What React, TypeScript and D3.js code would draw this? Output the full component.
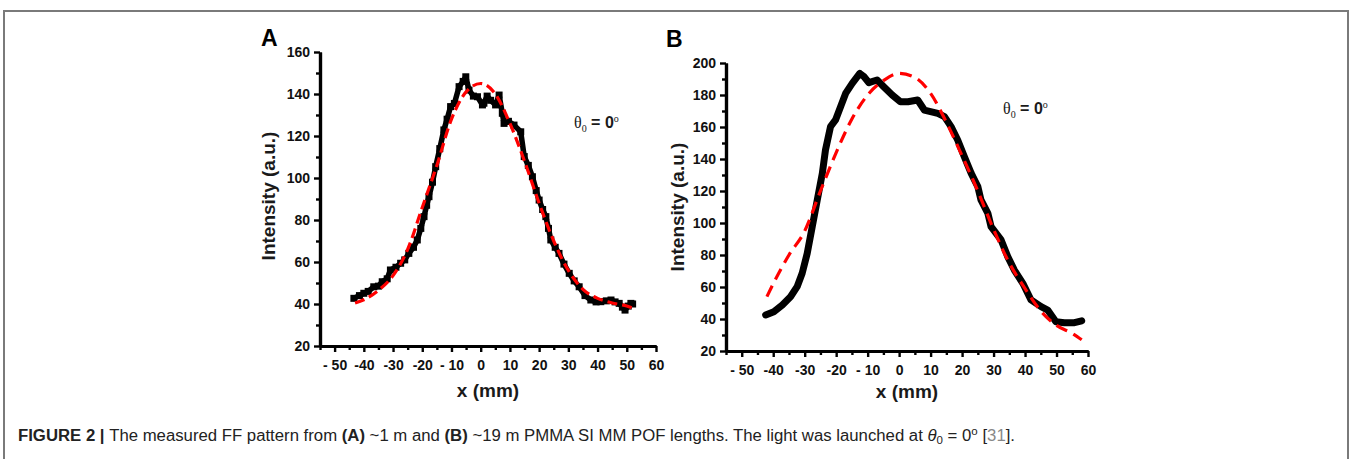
import React, { useRef, useEffect } from "react";
import * as d3 from "d3";

// panel A (~1 m): measured pattern and fit
const measuredA: [number, number][] = [
  [-43.4, 42.7], [-41.5, 44], [-40, 45.1], [-38.5, 46], [-36.6, 48.2], [-35, 48.5], [-33.7, 50.6],
  [-32, 52], [-30.9, 56.2], [-29, 57.5], [-27.4, 59.4], [-26, 61], [-24.6, 64.1], [-23, 67],
  [-21.7, 70.5], [-20.5, 76], [-19.4, 81.6], [-18.5, 87], [-17.7, 91.1], [-16.5, 98], [-15.4, 105.4],
  [-14, 114], [-12.6, 122.9], [-11.5, 128], [-10.3, 134], [-9, 135.5], [-7.4, 143.5], [-6, 146],
  [-5.1, 148.2], [-4, 141.9], [-2.5, 139], [-1.1, 138.7], [0.6, 134.8], [1.1, 135.6], [2.2, 139],
  [3.4, 137], [5.1, 134.8], [6.3, 139.5], [7.4, 130.8], [8, 126], [9.5, 127], [11.4, 125.2],
  [13.7, 122], [14.9, 110.2], [16.3, 106], [17.7, 100.6], [19, 94], [20, 89.5], [21.2, 85],
  [22.3, 81.6], [23.2, 76], [24, 70.5], [25.5, 67], [26.8, 64.1], [28.5, 59], [30.3, 54.6],
  [32, 51], [33.7, 48.2], [35.7, 44], [37.7, 41.9], [39.5, 41], [41.1, 41.1], [43, 41.5],
  [44.6, 41.9], [46, 41], [47.4, 40.3], [48.5, 38.5], [49.4, 37.1], [50.5, 39], [51.4, 40.3], [52, 40],
];
const fitA: [number, number][] = [
  [-43, 40.5], [-40, 42], [-35, 46.5], [-30, 53.5], [-25, 66], [-20, 86], [-15, 106], [-10, 128],
  [-5, 141], [0, 145], [5, 140], [10, 126], [15, 108], [20, 88], [25, 70], [30, 56], [35, 47],
  [40, 42.7], [45, 40.5], [50, 39], [52, 38],
];

// panel B (~19 m)
const measuredB: [number, number][] = [
  [-42.4, 42.5], [-39.8, 44.6], [-37.1, 48.8], [-34.5, 53.9], [-32.4, 60.2], [-30.8, 68.6],
  [-29.2, 81], [-27.6, 97.7], [-26, 114.4], [-24.4, 131], [-23.4, 145.6], [-21.8, 160.2],
  [-20.2, 164.4], [-18.6, 172.7], [-17, 181], [-14.9, 187.3], [-12.5, 193.5], [-11.2, 191.5],
  [-9.6, 187.7], [-7, 189.4], [-4.9, 185.2], [-2.2, 180], [0.4, 175.8], [2.8, 175.8], [5.9, 176.9],
  [8, 170.6], [12.3, 168.5], [14.4, 166.5], [16.5, 160.2], [18.6, 151.9], [20.7, 141.5],
  [22.9, 131], [25, 122.7], [26, 114.4], [28.2, 106], [29.2, 97.7], [32.4, 89.4], [34.5, 79],
  [36.6, 70.6], [39.3, 62.3], [41.9, 51.9], [45.1, 47.7], [47.2, 45.6], [49.8, 38.3],
  [52.5, 37.7], [55.7, 37.7], [58, 38.9],
];
const fitB: [number, number][] = [
  [-42, 54], [-40, 62], [-35, 80], [-30, 95], [-25, 120], [-20, 144], [-15, 165], [-10, 180],
  [-5, 189], [0, 193.5], [5, 191], [10, 181], [15, 163], [20, 142], [25, 120], [30, 96],
  [35, 75], [40, 59], [45, 45], [50, 36], [55, 31], [58, 27],
];

const xTicks = [-50, -40, -30, -20, -10, 0, 10, 20, 30, 40, 50, 60];
const xTickText: Record<number, string> = { [-50]: "- 50", [-10]: "- 10" };
const yTicksA = [20, 40, 60, 80, 100, 120, 140, 160];
const yTicksB = [20, 40, 60, 80, 100, 120, 140, 160, 180, 200];

const FONT = "'Liberation Sans', Arial, sans-serif";

interface PanelProps {
  left: number; right: number; top: number; bottom: number;
  yMax: number; yTicks: number[];
  measured: [number, number][]; fit: [number, number][];
  letter: string; letterX: number; letterY: number;
  ylabelX: number; ylabelY: number; xlabelY: number;
  noteX: number; noteY: number;
  markers: boolean; dash: string; lineWidth: number;
}

function Panel(p: PanelProps) {
  const gRef = useRef<SVGGElement>(null);
  const x = d3.scaleLinear().domain([-55, 60]).range([p.left, p.right]);
  const y = d3.scaleLinear().domain([20, p.yMax]).range([p.bottom, p.top]);

  useEffect(() => {
    const g = d3.select(gRef.current);
    g.selectAll("*").remove();

    const xMinor = d3.range(-55, 61, 5).filter((v) => v % 10 !== 0);
    const yMinor = d3.range(30, p.yMax, 20);

    const line = d3.line<[number, number]>().x((d) => x(d[0])).y((d) => y(d[1]));
    g.append("path").datum(p.measured).attr("d", line)
      .attr("fill", "none").attr("stroke", "#000").attr("stroke-width", p.lineWidth)
      .attr("stroke-linejoin", "round").attr("stroke-linecap", "round");
    if (p.markers) {
      g.append("g").selectAll("rect").data(p.measured).join("rect")
        .attr("x", (d) => x(d[0]) - 3.5).attr("y", (d) => y(d[1]) - 3.5)
        .attr("width", 7).attr("height", 7).attr("fill", "#000");
    }
    g.append("path").datum(p.fit).attr("d", line.curve(d3.curveMonotoneX))
      .attr("fill", "none").attr("stroke", "#ff0000").attr("stroke-width", 3.2)
      .attr("stroke-dasharray", p.dash);

    const xa = g.append("g").attr("transform", `translate(0,${p.bottom})`)
      .call(d3.axisBottom(x).tickValues(xTicks).tickSize(6).tickSizeOuter(0)
        .tickFormat((d) => xTickText[d as number] ?? String(d)));
    g.append("g").attr("transform", `translate(0,${p.bottom})`)
      .call(d3.axisBottom(x).tickValues(xMinor).tickSize(4).tickSizeOuter(0).tickFormat(() => ""));
    const ya = g.append("g").attr("transform", `translate(${p.left},0)`)
      .call(d3.axisLeft(y).tickValues(p.yTicks).tickSize(6).tickSizeOuter(0));
    g.append("g").attr("transform", `translate(${p.left},0)`)
      .call(d3.axisLeft(y).tickValues(yMinor).tickSize(4).tickSizeOuter(0).tickFormat(() => ""));

    g.selectAll(".domain").attr("stroke", "#000").attr("stroke-width", 3.2);
    g.selectAll(".tick line").attr("stroke", "#000").attr("stroke-width", 2.4);
    g.selectAll(".tick text")
      .attr("font-family", FONT).attr("font-weight", "bold")
      .attr("font-size", 14).attr("fill", "#111");
    xa.selectAll(".tick text").attr("dy", "1.05em");
    ya.selectAll(".tick text").attr("dx", "-1px");
  }, [p]);

  return (
    <g>
      <g ref={gRef} />
      <text x={p.letterX} y={p.letterY} fontFamily={FONT} fontWeight="bold" fontSize={23}>{p.letter}</text>
      <text transform={`translate(${p.ylabelX},${p.ylabelY}) rotate(-90)`} textAnchor="middle"
        fontFamily={FONT} fontWeight="bold" fontSize={19} fill="#1a1a1a">Intensity (a.u.)</text>
      <text x={(p.left + p.right) / 2} y={p.xlabelY} textAnchor="middle"
        fontFamily={FONT} fontWeight="bold" fontSize={19} fill="#1a1a1a">x (mm)</text>
      <text x={p.noteX} y={p.noteY} fontSize={16} fill="#1a1a1a">
        <tspan fontFamily="'Liberation Serif', 'Times New Roman', serif">θ</tspan>
        <tspan fontFamily="'Liberation Serif', serif" fontSize={10} dy={4}>0</tspan>
        <tspan fontFamily={FONT} fontWeight="bold" dy={-4}> = 0</tspan>
        <tspan fontFamily="'Liberation Serif', serif" fontSize={10} dy={-6}>o</tspan>
      </text>
    </g>
  );
}

const panelA: PanelProps = {
  left: 320, right: 656, top: 52, bottom: 346, yMax: 160, yTicks: yTicksA,
  measured: measuredA, fit: fitA, letter: "A", letterX: 261, letterY: 46,
  ylabelX: 275, ylabelY: 196, xlabelY: 397, noteX: 574, noteY: 128,
  markers: true, dash: "10,5", lineWidth: 5.5,
};
const panelB: PanelProps = {
  left: 726, right: 1088, top: 63, bottom: 351, yMax: 200, yTicks: yTicksB,
  measured: measuredB, fit: fitB, letter: "B", letterX: 666, letterY: 47,
  ylabelX: 684, ylabelY: 207, xlabelY: 398, noteX: 1003, noteY: 114,
  markers: false, dash: "12,7", lineWidth: 7,
};

export default function App() {
  return (
    <svg width={1350} height={459} style={{ position: "absolute", left: 0, top: 0, background: "#fff" }}>
      <path d="M4,459 V11 H1348 V459" fill="none" stroke="#7a7a7a" strokeWidth={2} />
      <Panel {...panelA} />
      <Panel {...panelB} />
      <text x={18} y={441} fontFamily="'Liberation Sans', Arial, sans-serif"
        fontSize={16} fill="#222" textLength={997} lengthAdjust="spacingAndGlyphs">
        <tspan fontWeight="bold">FIGURE 2 | </tspan>
        <tspan>The measured FF pattern from </tspan>
        <tspan fontWeight="bold">(A)</tspan>
        <tspan> ~1 m and </tspan>
        <tspan fontWeight="bold">(B)</tspan>
        <tspan> ~19 m PMMA SI MM POF lengths. The light was launched at </tspan>
        <tspan fontStyle="italic">θ</tspan>
        <tspan fontSize={11} dy={3}>0</tspan>
        <tspan dy={-3}> = 0</tspan>
        <tspan fontSize={11} dy={-6}>o</tspan>
        <tspan dy={6}> [</tspan>
        <tspan fill="#888">31</tspan>
        <tspan>].</tspan>
      </text>
    </svg>
  );
}
